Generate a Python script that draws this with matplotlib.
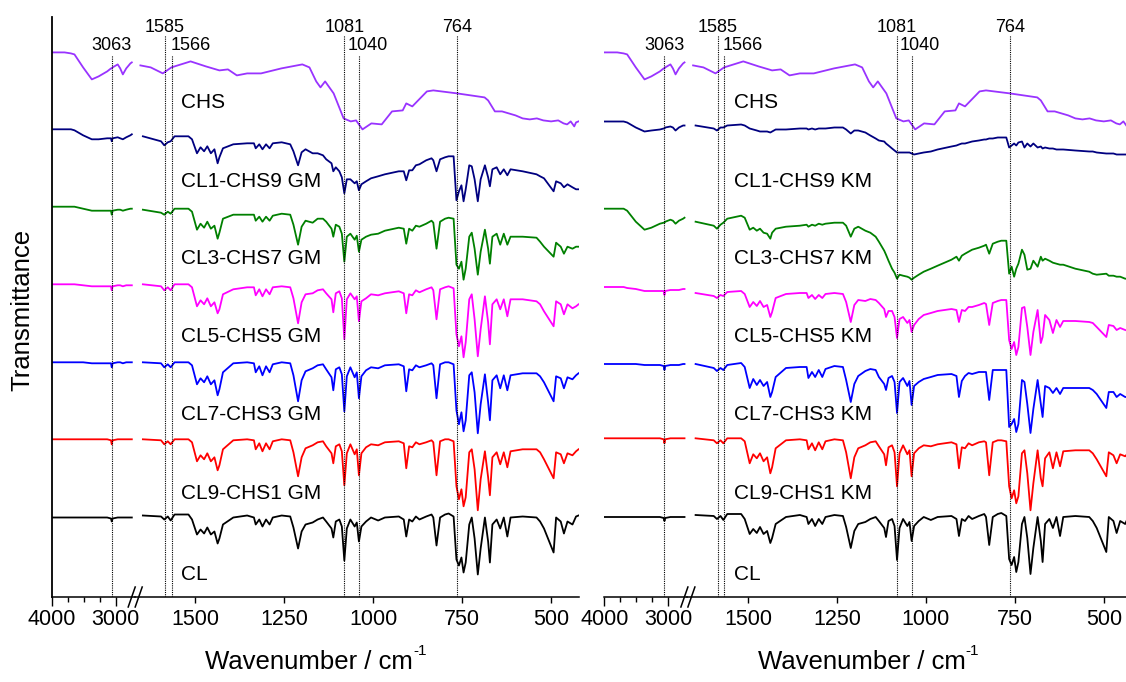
import numpy as np
import matplotlib.pyplot as plt
from matplotlib.lines import Line2D

plt.rcParams['font.family'] = ['Liberation Sans', 'DejaVu Sans']

# wavenumber grids (cm-1)
wn_hi = [4000, 3800, 3700, 3645, 3510, 3374, 3268, 3134, 3075, 3063, 3050,
         2970, 2931, 2890, 2837, 2772, 2750]
wn_lo = [1647, 1596, 1587, 1577, 1569, 1558,
         1519, 1509, 1495, 1485, 1475, 1466, 1456, 1446, 1437, 1432,
         1422, 1393, 1354, 1335, 1330, 1320, 1311, 1301, 1291, 1282,
         1257, 1233, 1224, 1211, 1201, 1190, 1170, 1156, 1141, 1132,
         1117, 1112, 1105, 1095, 1088, 1081, 1074, 1064, 1052, 1046,
         1040, 1033, 1020, 1006, 986, 967, 928, 914, 907, 899,
         890, 880, 870, 851, 836, 831, 822, 812, 798, 788,
         774, 766, 759, 752, 746, 740, 730, 723, 715, 706,
         698, 686, 677, 672, 665, 653, 643, 633, 623, 614,
         580, 541, 531, 520, 493, 486, 473, 464, 454, 440,
         430, 423]
chs_wn_lo = [1654, 1625, 1591, 1567, 1513, 1470, 1432, 1408, 1383, 1354,
             1315, 1258, 1199, 1179, 1160, 1148, 1135, 1111, 1083, 1063,
             1048, 1030, 1005, 976, 947, 917, 907, 890, 849, 831,
             764, 687, 677, 658, 638, 600, 580, 560, 540, 522,
             500, 480, 465, 455, 445, 435, 430, 423]

# transmittance (a.u., relative to each trace's 4000 cm-1 level)
chs_hi = [0, 0, -1, -2, -15, -27, -24, -19, -16, -16, -15, -12, -16, -22, -16, -11, -10]
chs_lo = [-13, -15, -21, -15, -9, -14, -18, -17, -23, -21,
          -21, -16, -12, -15, -29, -35, -29, -41, -66, -69,
          -68, -77, -71, -72, -59, -58, -51, -54, -39, -38,
          -41, -45, -48, -59, -59, -63, -66, -67, -66, -68,
          -69, -68, -71, -72, -69, -74, -70, -69]

cl_hi = [0, 0, 0, 0, 0, 0, 0, 0, -1, -4, -1, 0, 0, 0, 0, 0, 0]
cl_lo = [2, 1, -2, 1, -3, 3,
         3, -2, -17, -12, -16, -10, -17, -14, -26, -21,
         -7, 0, 2, 0, -7, -2, -9, -2, -7, 0,
         2, 1, -10, -31, -14, -7, -5, -2, 0, -4,
         -11, -20, -4, -2, -9, -43, -11, -2, -9, -5,
         -24, -9, -4, 0, -3, 0, 1, -2, -19, -2,
         -4, 1, -2, 1, 3, 0, -28, 0, 3, 4,
         1, -42, -48, -40, -55, -45, -7, 0, -21, -57,
         -31, 0, -24, -45, -7, -2, -11, 0, -19, 0,
         1, 0, -4, -11, -35, 0, -4, -16, -4, -7,
         1, 2]

gm1_hi = [0, 0, 0, -1, -6, -10, -10, -9, -9, -12, -9, -8, -9, -10, -8, -6, -5]
gm1_lo = [-7, -12, -16, -13, -12, -7,
          -7, -10, -24, -18, -22, -17, -24, -20, -34, -28,
          -19, -15, -14, -14, -19, -15, -20, -15, -19, -14,
          -13, -15, -22, -36, -23, -20, -24, -24, -26, -30,
          -34, -42, -38, -42, -48, -64, -50, -50, -54, -52,
          -61, -55, -52, -49, -47, -45, -42, -42, -51, -41,
          -41, -36, -35, -31, -29, -31, -42, -30, -28, -27,
          -27, -71, -62, -56, -72, -60, -36, -37, -50, -72,
          -50, -36, -48, -57, -40, -38, -45, -40, -46, -40,
          -42, -45, -47, -49, -62, -52, -54, -58, -55, -58,
          -60, -60]

gm3_hi = [0, 0, 0, 0, -2, -4, -4, -4, -4, -8, -4, -3, -3, -4, -3, -2, -2]
gm3_lo = [-3, -6, -8, -5, -7, -2,
          -2, -5, -23, -17, -21, -15, -22, -19, -32, -26,
          -12, -8, -8, -8, -14, -10, -15, -10, -14, -9,
          -7, -8, -18, -38, -20, -14, -16, -12, -12, -15,
          -22, -30, -18, -20, -27, -55, -30, -27, -33, -29,
          -45, -33, -30, -28, -27, -24, -21, -22, -37, -22,
          -24, -19, -20, -17, -14, -16, -42, -15, -12, -11,
          -12, -58, -62, -55, -73, -62, -30, -26, -42, -68,
          -45, -23, -42, -57, -30, -27, -38, -27, -38, -30,
          -30, -31, -35, -40, -50, -36, -40, -47, -40, -42,
          -40, -40]

gm5_hi = [0, 0, 0, 0, -1, -2, -2, -2, -2, -6, -2, -1, -1, -2, -1, -1, -1]
gm5_lo = [0, -2, -6, -3, -6, 0,
          0, -3, -22, -16, -20, -14, -22, -18, -29, -25,
          -10, -5, -3, -3, -11, -5, -12, -5, -10, -3,
          -2, -3, -14, -39, -18, -10, -9, -6, -5, -9,
          -15, -28, -9, -7, -14, -55, -15, -9, -15, -12,
          -37, -17, -14, -10, -11, -9, -7, -9, -29, -10,
          -11, -6, -8, -5, -3, -6, -35, -5, -3, -2,
          -4, -50, -62, -52, -73, -58, -15, -10, -35, -72,
          -45, -12, -38, -60, -20, -15, -25, -15, -32, -15,
          -15, -17, -20, -27, -42, -17, -20, -30, -20, -24,
          -22, -20]

gm7_hi = [0, 0, 0, 0, 0, -1, -1, -1, -1, -5, -1, 0, 0, -1, 0, 0, 0]
gm7_lo = [0, -1, -5, -2, -5, 0,
          0, -3, -22, -16, -20, -14, -22, -18, -33, -27,
          -10, -1, 0, -1, -10, -4, -13, -4, -10, -2,
          0, -1, -13, -39, -18, -9, -6, -3, -2, -7,
          -15, -28, -7, -5, -12, -49, -14, -5, -15, -10,
          -36, -14, -8, -5, -6, -3, -2, -4, -29, -7,
          -8, -3, -5, -3, -1, -3, -36, -2, 0, 0,
          -2, -48, -62, -50, -69, -58, -13, -10, -30, -71,
          -42, -12, -40, -58, -18, -13, -26, -13, -28, -13,
          -11, -11, -14, -20, -39, -14, -16, -26, -15, -17,
          -13, -11]

gm9_hi = [0, 0, 0, 0, 0, 0, 0, 0, -1, -5, -1, 0, 0, 0, 0, 0, 0]
gm9_lo = [0, -1, -5, -2, -5, 0,
          0, -3, -22, -16, -20, -14, -22, -18, -31, -26,
          -10, -1, 0, -1, -10, -4, -12, -4, -10, -2,
          0, -1, -13, -37, -18, -9, -6, -3, -2, -7,
          -14, -24, -7, -5, -12, -46, -14, -5, -15, -10,
          -36, -14, -8, -5, -6, -3, -2, -4, -29, -7,
          -8, -3, -5, -3, -1, -3, -36, -2, 0, 0,
          -2, -47, -60, -50, -67, -58, -13, -10, -30, -71,
          -40, -12, -38, -56, -18, -13, -25, -13, -28, -12,
          -10, -10, -13, -20, -39, -13, -15, -24, -14, -16,
          -12, -10]

km1_hi = [0, 0, 0, -1, -6, -10, -9, -8, -7, -7, -6, -5, -6, -9, -6, -4, -4]
km1_lo = [-4, -7, -9, -6, -6, -4,
          -3, -4, -7, -8, -9, -10, -10, -10, -11, -10,
          -8, -8, -7, -7, -8, -7, -8, -7, -7, -7,
          -6, -6, -8, -12, -9, -9, -11, -14, -17, -19,
          -20, -22, -24, -27, -29, -31, -31, -31, -31, -31,
          -32, -33, -32, -31, -30, -28, -25, -24, -23, -22,
          -22, -21, -20, -19, -18, -18, -17, -17, -16, -16,
          -16, -26, -24, -22, -24, -21, -20, -26, -22, -25,
          -22, -26, -25, -27, -26, -27, -27, -28, -28, -28,
          -29, -30, -30, -31, -32, -32, -32, -33, -33, -33,
          -33, -33]

km3_hi = [0, 0, 0, -2, -13, -21, -19, -15, -14, -14, -13, -11, -12, -15, -12, -10, -9]
km3_lo = [-13, -17, -20, -16, -14, -10,
          -7, -9, -21, -19, -22, -20, -24, -25, -30, -24,
          -20, -18, -17, -16, -18, -16, -17, -15, -16, -15,
          -14, -14, -17, -28, -20, -18, -22, -24, -28, -33,
          -42, -46, -52, -60, -64, -70, -66, -67, -68, -69,
          -71, -69, -66, -63, -60, -57, -51, -48, -52, -47,
          -45, -43, -41, -39, -37, -36, -45, -35, -33, -32,
          -32, -65, -58, -68, -60, -55, -41, -46, -61, -60,
          -52, -58, -48, -52, -50, -52, -54, -55, -56, -56,
          -60, -63, -65, -66, -65, -67, -67, -68, -68, -70,
          -70, -70]

km5_hi = [0, 0, 0, -1, -2, -4, -4, -4, -4, -8, -4, -3, -3, -3, -3, -2, -2]
km5_lo = [-6, -9, -11, -8, -9, -5,
          -4, -7, -20, -15, -19, -14, -20, -18, -30, -25,
          -11, -7, -6, -6, -11, -8, -12, -8, -11, -7,
          -6, -7, -15, -35, -18, -13, -14, -12, -13, -16,
          -22, -30, -24, -24, -30, -51, -32, -30, -36, -33,
          -45, -38, -32, -28, -26, -24, -22, -23, -35, -23,
          -24, -20, -20, -18, -16, -17, -38, -16, -14, -13,
          -13, -53, -62, -55, -68, -60, -21, -20, -40, -68,
          -45, -23, -56, -50, -28, -33, -46, -33, -40, -34,
          -34, -35, -36, -40, -50, -38, -39, -43, -41, -43,
          -44, -45]

km7_hi = [0, 0, 0, 0, 0, -1, -1, -1, -2, -6, -2, -1, -1, -1, -1, 0, 0]
km7_lo = [0, -4, -7, -4, -6, -1,
          1, -3, -24, -15, -21, -16, -22, -18, -33, -28,
          -13, -4, -3, -3, -14, -8, -13, -6, -13, -5,
          -2, -3, -16, -38, -20, -12, -7, -5, -6, -13,
          -20, -26, -14, -12, -18, -49, -18, -14, -22, -17,
          -41, -22, -18, -15, -13, -11, -10, -12, -33, -17,
          -12, -9, -10, -8, -8, -8, -36, -6, -6, -6,
          -6, -63, -60, -55, -68, -60, -16, -18, -40, -69,
          -45, -16, -40, -53, -22, -24, -29, -24, -30, -24,
          -24, -24, -26, -30, -44, -28, -28, -33, -30, -33,
          -33, -33]

km9_hi = [0, 0, 0, 0, 0, 0, 0, 0, -1, -5, -1, 0, 0, 0, 0, 0, 0]
km9_lo = [0, -2, -5, -2, -5, 0,
          0, -3, -25, -16, -20, -15, -23, -19, -35, -29,
          -10, -2, -1, -2, -11, -5, -12, -4, -11, -3,
          -1, -2, -14, -40, -19, -10, -7, -4, -3, -8,
          -16, -27, -9, -7, -14, -48, -15, -7, -16, -12,
          -38, -15, -10, -7, -8, -6, -4, -6, -30, -9,
          -10, -5, -7, -4, -3, -4, -37, -4, -2, -2,
          -3, -48, -60, -52, -65, -58, -15, -12, -35, -72,
          -45, -12, -40, -48, -20, -14, -30, -14, -28, -13,
          -12, -12, -15, -21, -38, -14, -17, -25, -16, -18,
          -14, -12]

gm_labels = ['CHS', 'CL1-CHS9 GM', 'CL3-CHS7 GM', 'CL5-CHS5 GM',
             'CL7-CHS3 GM', 'CL9-CHS1 GM', 'CL']
km_labels = ['CHS', 'CL1-CHS9 KM', 'CL3-CHS7 KM', 'CL5-CHS5 KM',
             'CL7-CHS3 KM', 'CL9-CHS1 KM', 'CL']
colors = ['#9933ff', '#000080', '#008000', '#ff00ff', '#0000ff', '#ff0000', 'black']

peaks = [3063, 1585, 1566, 1081, 1040, 764]

# figure in pixel units
W, H = 1126, 682
fig = plt.figure(figsize=(W / 100, H / 100), dpi=100)

ax_bot, ax_top = 597, 17
HI_W, LO_W = 83, 444
YMAX = ax_bot - ax_top


def px_rect(x0, w):
    return [x0 / W, (H - ax_bot) / H, w / W, YMAX / H]


def make_panel(x0, left_spine):
    a_hi = fig.add_axes(px_rect(x0, HI_W))
    a_lo = fig.add_axes(px_rect(x0 + HI_W, LO_W))
    a_hi.set_xlim(4000, 2705)
    a_lo.set_xlim(1670, 422.5)
    for a in (a_hi, a_lo):
        a.set_ylim(0, YMAX)
        a.set_yticks([])
        a.patch.set_alpha(0)
        for s in ('top', 'right', 'left'):
            a.spines[s].set_visible(False)
        a.spines['bottom'].set_linewidth(1.1)
        a.tick_params(axis='x', direction='out', labelsize=15.5, width=1.0,
                      length=4.5, pad=4)
    if left_spine:
        a_hi.spines['left'].set_visible(True)
        a_hi.spines['left'].set_linewidth(1.3)
    a_hi.set_xticks([4000, 3000])
    a_hi.set_xticks([3750, 3500, 3250], minor=True)
    a_hi.tick_params(axis='x', which='major', length=6.5, pad=2)
    a_hi.tick_params(axis='x', which='minor', direction='out', length=3.5, width=1.0)
    a_lo.set_xticks([1500, 1250, 1000, 750, 500])
    return a_hi, a_lo


panels = [
    (51.7, True, gm_labels, [544.6, 467.7, 390.3, 312.7, 234.7, 157.7, 79.5],
     [(chs_hi, chs_lo), (gm1_hi, gm1_lo), (gm3_hi, gm3_lo), (gm5_hi, gm5_lo),
      (gm7_hi, gm7_lo), (gm9_hi, gm9_lo), (cl_hi, cl_lo)]),
    (604.4, False, km_labels, [544.6, 475.5, 388.3, 310.0, 233.0, 158.7, 80.0],
     [(chs_hi, chs_lo), (km1_hi, km1_lo), (km3_hi, km3_lo), (km5_hi, km5_lo),
      (km7_hi, km7_lo), (km9_hi, km9_lo), (cl_hi, cl_lo)]),
]

label_y = [103, 181.7, 258.3, 336, 415, 493.3, 574]

for x0, lsp, labels, offsets, data in panels:
    a_hi, a_lo = make_panel(x0, lsp)
    for i, (hi, lo) in enumerate(data):
        xs_lo = chs_wn_lo if i == 0 else wn_lo
        a_hi.plot(wn_hi, offsets[i] + np.array(hi), color=colors[i], lw=1.3)
        a_lo.plot(xs_lo, offsets[i] + np.array(lo), color=colors[i], lw=1.3)
        a_lo.text(1540, ax_bot - label_y[i], labels[i], fontsize=15,
                  ha='left', va='center')

    # marker lines and their labels
    upper = (1585, 1081, 764)
    for p in peaks:
        a = a_hi if p > 2000 else a_lo
        top = ax_bot - 35 if p in upper else ax_bot - 55
        a.plot([p, p], [0, top], color='black', lw=0.8, ls=(0, (1, 1)))
        ty = ax_bot - 27.5 if p in upper else ax_bot - 46
        ha, dx = 'center', 0
        if p == 1566:
            ha, dx = 'left', -1
        if p == 1040:
            dx = 6
        a.annotate(str(p), xy=(p, ty), xytext=(dx, 0), textcoords='offset points',
                   ha=ha, va='center', fontsize=13, annotation_clip=False)

    # axis break marks
    xb = x0 + HI_W
    for dxb in (-6.5, 0.5):
        fig.add_artist(Line2D([(xb + dxb) / W, (xb + dxb + 7) / W],
                              [(H - ax_bot - 10) / H, (H - ax_bot + 10) / H],
                              color='black', lw=1.1))

    xl = fig.text((x0 + (HI_W + LO_W) / 2 - 6) / W, 1 - 662 / H,
                  'Wavenumber / cm', fontsize=18.5, ha='center', va='center')
    a_lo.annotate('-1', xy=(1.0, 0.95), xycoords=xl, fontsize=11,
                  ha='left', va='center', annotation_clip=False)

fig.text(22 / W, 1 - 310 / H, 'Transmittance', rotation=90, fontsize=18.5,
         ha='center', va='center')

fig.savefig('out.png', dpi=100)
